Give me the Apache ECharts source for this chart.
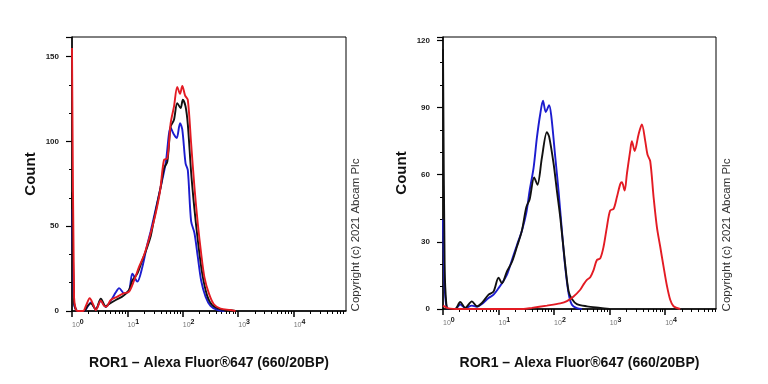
<!DOCTYPE html>
<html><head><meta charset="utf-8">
<script src="https://cdn.jsdelivr.net/npm/echarts@6/dist/echarts.min.js"></script>
<style>html,body{margin:0;padding:0;background:#fff}#c{width:768px;height:384px}</style>
</head><body><div id="c"></div>
<script>
const xTitle = 'ROR1 – Alexa Fluor®647 (660/20BP)';
const yTitle = 'Count';
const copyrightText = 'Copyright (c) 2021 Abcam Plc';
const majorXTicks = [1, 10, 100, 1000, 10000];
const minorXTicks = [2,3,4,5,6,7,8,9,20,30,40,50,60,70,80,90,200,300,400,500,600,700,800,900,2000,3000,4000,5000,6000,7000,8000,9000,20000,30000,40000,50000,60000,70000,80000];

// Left panel
const leftRedX = [1,1.09,1.17,1.26,1.58,1.78,2.09,2.4,2.69,3.31,3.8,4.17,5.01,6.61,8.51,10.7,13.2,16.2,20,26.3,32.4,38.9,45.7,52.5,60.3,69.2,79.4,89.1,97.7,110,123,141,162,186,214,245,295,363,479,724,891];
const leftRedY = [155,8,1,0,0,3,7.5,4,0.5,6,3,2.5,6.5,8.5,10.4,11.4,18,26,33,46,57.6,71,89,90,110.7,120.5,132,128,132.7,127,124.5,99,73,51.7,34,20,10.4,4,1.4,0.6,0];
const leftBlackX = [1,1.09,1.17,1.26,1.66,1.91,2.19,2.69,3.31,4.07,4.37,6.17,8.13,10.7,12.3,15.1,18.6,22.4,26.3,30.2,39.8,45.7,52.5,60.3,69.2,79.4,91.2,100,112,123,141,162,186,224,275,339,479,708,891];
const leftBlackY = [70,5,1,0,0,3,4.5,1,7.3,2.5,3.5,6.5,8.5,12.4,18,22,30,37,44,54,73,84,88,108.7,112.7,122.5,119.6,124.5,120.5,110,82,60,42,22,9,3.5,1,0.5,0];
const leftBlueX = [1,1.09,1.17,1.26,1.66,1.91,2.19,2.69,3.31,4.07,5.01,6.17,7.08,8.71,10.7,12.3,15.1,18.6,22.4,26.3,32.4,39.8,49,60.3,69.2,77.6,89.1,97.7,112,123,141,162,186,214,257,316,417,562];
const leftBlueY = [60,4,1,0,0,2.5,5,1,6,2.5,6,11,13.5,10.4,12,22,17.3,26,38,47,60,73,87,108,104,102,110.7,107,87,83,53,46,32,18,8.5,3,0.6,0];

// Right panel
const rightBlackX = [1,1.07,1.15,1.26,1.66,2.04,2.51,3.31,4.07,5.01,6.61,8.13,10,11.5,14.1,17.4,21.4,26.3,31.6,36.3,43.7,50.1,60.3,74.1,81.3,97.7,112,129,158,182,209,257,389,676,1000];
const rightBlackY = [116,20,2,0,0,3.1,0.5,3.4,1.2,2.7,6.4,7.8,14,11.5,16.7,21,27.8,35,45.5,49,58.8,55.5,67.6,79,77,65,53,41,20,8,4.5,2.2,1.2,0.5,0];
const rightBlueX = [1,1.07,1.15,1.26,1.66,2.04,2.51,3.31,4.07,5.01,6.61,8.13,10,11.5,14.1,17.4,21.4,26.3,31.6,36.3,42.7,49,56.2,63.1,70.8,81.3,89.1,105,120,138,158,182,209,257,316];
const rightBlueY = [40,10,1.5,0,0,2,0.5,1.5,1,2.2,4.9,6.4,9.3,11.5,15.2,21.9,28.5,35,43,53,63,76.5,87,93,88,91,86,67.7,52.9,35,19,7,1.9,0.4,0];
const rightRedX = [1,1.26,2,28.2,39.8,74.1,129,170,224,295,339,389,447,513,589,676,776,891,1020,1180,1350,1550,1660,1860,2040,2340,2510,2820,3310,3800,4370,4790,5370,6170,7080,8130,9330,10700,12300,14100,18600];
const rightRedY = [1.5,0.3,0,0,0.5,1.5,2.5,3.5,5.6,8.6,11,13,14.2,17.4,21.9,22.6,27.8,36.6,44,44.8,50,55.8,56.6,52.9,60.3,70.6,75,70.6,78,82.4,75,69,66,50,36.6,27.8,18.9,10.5,4.1,1.2,0];

const RED = '#e31b23', BLUE = '#1c1ccf', BLACK = '#111111';
const FONT = 'Liberation Sans, Arial, sans-serif';

function pairs(xs, ys) { return xs.map((x, i) => [x, ys[i]]); }

function xAxes(grid, maxV, gap) {
  return [
    {
      type: 'log', logBase: 10, gridIndex: grid, min: 1, max: maxV, position: 'bottom',
      axisLine: { show: true, lineStyle: { color: '#000', width: 1.5 } },
      axisTick: { show: true, customValues: majorXTicks, length: 6, inside: false, lineStyle: { color: '#000', width: 1.5 } },
      axisLabel: {
        show: true, customValues: majorXTicks, margin: 5, align: 'left',
        formatter: v => '{b|10}{s|' + Math.round(Math.log10(v)) + '}',
        rich: {
          b: { fontSize: 7, color: '#777', fontFamily: FONT, padding: [6, 0, 0, 0] },
          s: { fontSize: 7, color: '#111', fontWeight: 'bold', fontFamily: FONT }
        }
      },
      splitLine: { show: false }, minorTick: { show: false },
      name: xTitle, nameLocation: 'middle', nameGap: gap,
      nameTextStyle: { fontSize: 14, fontWeight: 'bold', color: '#111', fontFamily: FONT }
    },
    {
      type: 'log', logBase: 10, gridIndex: grid, min: 1, max: maxV, position: 'bottom',
      axisLine: { show: false },
      axisTick: { show: true, customValues: minorXTicks, length: 3, lineStyle: { color: '#000', width: 1 } },
      axisLabel: { show: false }, splitLine: { show: false }
    }
  ];
}

function yAxis(grid, maxV, interval) {
  return {
    type: 'value', gridIndex: grid, min: 0, max: maxV, interval: interval,
    axisLine: { show: true, lineStyle: { color: '#000', width: 1.5 } },
    axisTick: { show: true, length: 6, lineStyle: { color: '#000', width: 1.2 } },
    minorTick: { show: true, splitNumber: 3, length: 3, lineStyle: { color: '#000', width: 1 } },
    axisLabel: { fontSize: 8, fontWeight: 'bold', color: '#222', margin: 13, fontFamily: FONT, showMaxLabel: false },
    splitLine: { show: false },
    name: yTitle, nameLocation: 'middle', nameGap: 34,
    nameTextStyle: { fontSize: 15, fontWeight: 'bold', color: '#111', fontFamily: FONT }
  };
}

function line(data, color, xi, yi) {
  return {
    type: 'line', xAxisIndex: xi, yAxisIndex: yi, data: data, showSymbol: false,
    smooth: 0.3, lineStyle: { color: color, width: 1.9 }, itemStyle: { color: color },
    animation: false, silent: true
  };
}

const chart = echarts.init(document.getElementById('c'), null, { renderer: 'canvas' });
chart.setOption({
  backgroundColor: '#fff',
  animation: false,
  grid: [
    { left: 72, right: 422, top: 37, bottom: 73, show: true, borderColor: '#000', borderWidth: 1, backgroundColor: 'transparent' },
    { left: 443, right: 52, top: 37, bottom: 75, show: true, borderColor: '#000', borderWidth: 1, backgroundColor: 'transparent' }
  ],
  xAxis: [...xAxes(0, 88000, 45), ...xAxes(1, 82000, 47)],
  yAxis: [yAxis(0, 161.5, 50), yAxis(1, 121.5, 30)],
  series: [
    line(pairs(leftBlueX, leftBlueY), BLUE, 0, 0),
    line(pairs(leftBlackX, leftBlackY), BLACK, 0, 0),
    line(pairs(leftRedX, leftRedY), RED, 0, 0),
    line(pairs(rightBlueX, rightBlueY), BLUE, 2, 1),
    line(pairs(rightBlackX, rightBlackY), BLACK, 2, 1),
    line(pairs(rightRedX, rightRedY), RED, 2, 1)
  ],
  graphic: [
    { type: 'text', x: 356, y: 235, rotation: Math.PI / 2,
      style: { text: copyrightText, font: '11.5px ' + FONT, fill: '#333', textAlign: 'center', textVerticalAlign: 'middle' } },
    { type: 'text', x: 727, y: 235, rotation: Math.PI / 2,
      style: { text: copyrightText, font: '11.5px ' + FONT, fill: '#333', textAlign: 'center', textVerticalAlign: 'middle' } }
  ]
});
</script></body></html>
